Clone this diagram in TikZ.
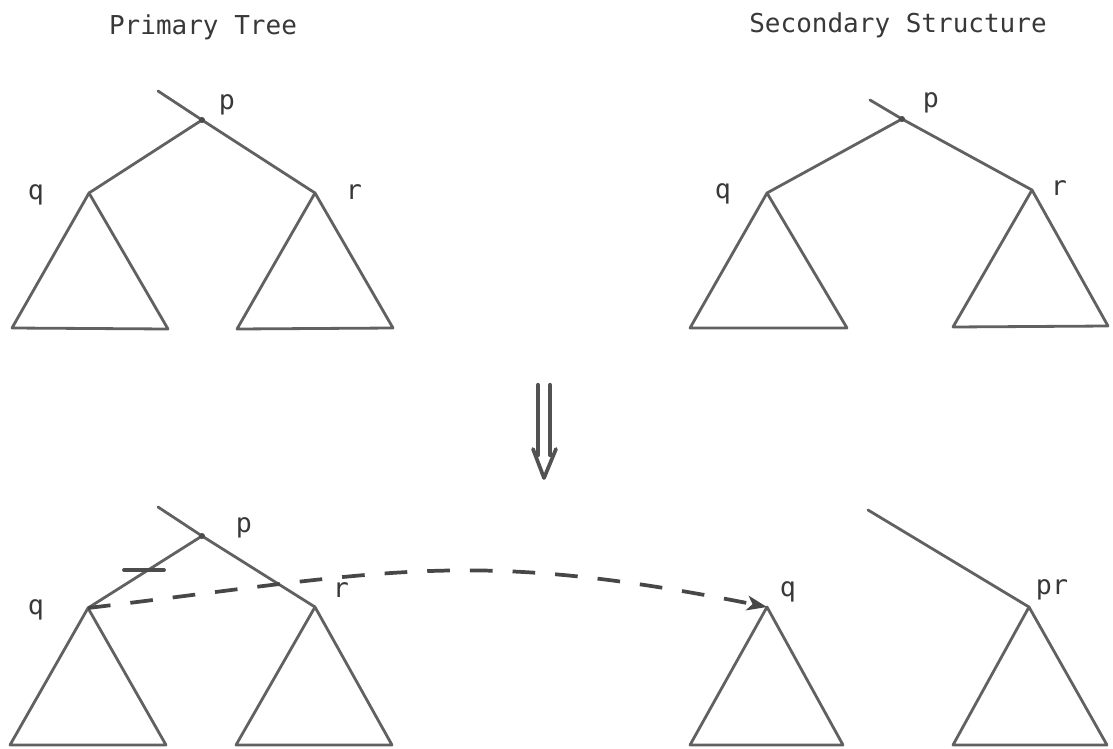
\documentclass[tikz,border=0pt]{standalone}
\usepackage{fontspec}
\setmonofont{DejaVu Sans Mono}
\usetikzlibrary{arrows.meta}
\begin{document}
\begin{tikzpicture}[x=0.75pt,y=-0.75pt,
  edge/.style={line width=2.1pt, draw=black!62, line cap=round, line join=round},
  lbl/.style={font=\ttfamily\fontsize{20}{22}\selectfont, text=black!78, inner sep=0pt, anchor=mid},
  ttl/.style={font=\ttfamily\fontsize{19.5}{22}\selectfont, text=black!78, inner sep=0pt, anchor=base},
  pdot/.style={circle, fill=black!70, inner sep=0pt, minimum size=4.5pt}]
\useasboundingbox (0,0) rectangle (1113,749);

% titles
\node[ttl] (t1) at (203,35) {Primary Tree};
\node[ttl] (t2) at (898,33) {Secondary Structure};

% ---------- top left
\coordinate (a-s) at (158,91);
\coordinate (a-p) at (202,120);
\coordinate (a-q) at (89,193);
\coordinate (a-r) at (315,193);
\draw[edge] (a-s) -- (a-p) -- (a-r);
\draw[edge] (a-p) -- (a-q);
\draw[edge] (a-q) -- (12,328) -- (168,329) -- cycle;
\draw[edge] (a-r) -- (237,329) -- (393,328) -- cycle;
\node[pdot] at (a-p) {};
\node[lbl] (a-pl) at (227,107) {p};
\node[lbl] (a-ql) at (36,197) {q};
\node[lbl] (a-rl) at (354,197) {r};

% ---------- top right
\coordinate (b-s) at (870,100);
\coordinate (b-p) at (902,119);
\coordinate (b-q) at (767,193);
\coordinate (b-r) at (1032,190);
\draw[edge] (b-s) -- (b-p) -- (b-r);
\draw[edge] (b-p) -- (b-q);
\draw[edge] (b-q) -- (690,328) -- (847,328) -- cycle;
\draw[edge] (b-r) -- (953,327) -- (1108,326) -- cycle;
\node[pdot] at (b-p) {};
\node[lbl] (b-pl) at (931,105) {p};
\node[lbl] (b-ql) at (723,196) {q};
\node[lbl] (b-rl) at (1059,193) {r};

% ---------- double arrow
\coordinate (d1) at (538,385);
\coordinate (d2) at (538,455);
\coordinate (d3) at (550,385);
\coordinate (d4) at (550,455);
\coordinate (dl) at (533,449);
\coordinate (dt) at (544,478);
\coordinate (dr) at (556,449);
\draw[edge, line width=3.2pt, draw=black!68] (d1) -- (d2);
\draw[edge, line width=3.2pt, draw=black!68] (d3) -- (d4);
\draw[edge, line width=2.8pt, draw=black!68] (dl) -- (dt) -- (dr);

% ---------- bottom left
\coordinate (c-s) at (158,507);
\coordinate (c-p) at (202,536);
\coordinate (c-q) at (88,608);
\coordinate (c-r) at (315,607);
\draw[edge] (c-s) -- (c-p) -- (c-r);
\draw[edge] (c-p) -- (c-q);
\draw[edge] (c-q) -- (10,745) -- (166,745) -- cycle;
\draw[edge] (c-r) -- (236,745) -- (392,745) -- cycle;
\node[pdot] at (c-p) {};
\node[lbl] (c-pl) at (244,530) {p};
\node[lbl] (c-ql) at (36,612) {q};
\node[lbl] (c-rl) at (341,595) {r};
% cut mark on edge q-p
\coordinate (k1) at (124,570);
\coordinate (k2) at (164,570);
\draw[edge, line width=2.8pt, draw=black!70] (k1) -- (k2);

% ---------- bottom right
\coordinate (e-q) at (767,607);
\coordinate (e-s) at (868,510);
\coordinate (e-r) at (1029,607);
\draw[edge] (e-q) -- (690,745) -- (843,745) -- cycle;
\draw[edge] (e-s) -- (e-r);
\draw[edge] (e-r) -- (953,745) -- (1107,745) -- cycle;
\node[lbl] (e-ql) at (788,594) {q};
\node[lbl] (e-rl) at (1052,592) {pr};

% ---------- dashed move arrow
\draw[edge, line width=2.8pt, draw=black!72, line cap=butt, dash pattern=on 17pt off 15pt, -{Stealth[length=15pt,width=11pt,inset=4pt]}]
  (c-q) .. controls (388,572) and (466,547) .. (e-q);
\end{tikzpicture}
\end{document}
